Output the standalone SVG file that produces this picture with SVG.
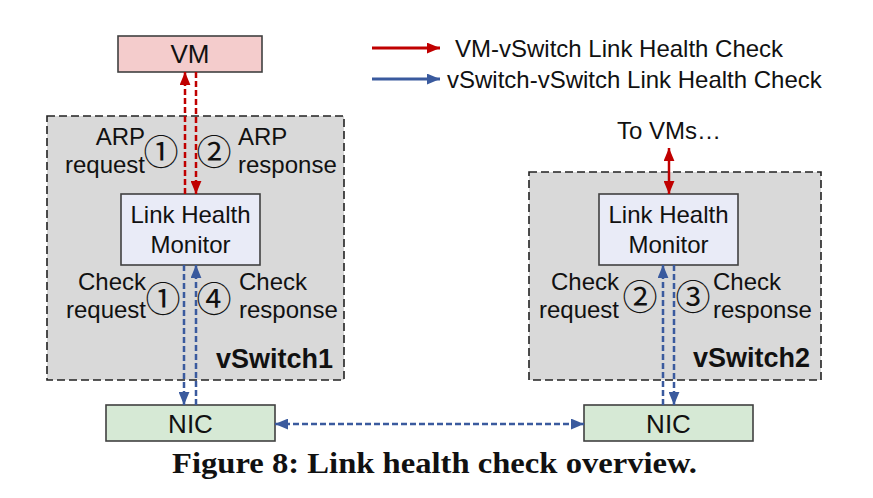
<svg xmlns="http://www.w3.org/2000/svg" width="873" height="498" viewBox="0 0 873 498">
<defs>
<style>
.lbl{font-family:"Liberation Sans",Arial,sans-serif;font-size:24px;fill:#111}
.big{font-family:"Liberation Sans",Arial,sans-serif;font-size:26px;fill:#111}
.leg{font-family:"Liberation Sans",Arial,sans-serif;font-size:24px;fill:#111}
.bold{font-family:"Liberation Sans",Arial,sans-serif;font-size:27px;font-weight:bold;fill:#111}
.num{font-family:"Noto Sans CJK SC","DejaVu Sans",sans-serif;font-size:35px;fill:#111}
.cap{font-family:"Liberation Serif","Times New Roman",serif;font-size:29px;font-weight:bold;fill:#111}
.sw{fill:#d9d9d9;stroke:#222;stroke-width:1.6;stroke-dasharray:8,4}
.box{stroke:#404040;stroke-width:1.6}
.red{stroke:#c00000;stroke-width:2.5;fill:none}
.blue{stroke:#3a5a9e;stroke-width:2.5;fill:none}
.dash{stroke-dasharray:6,3}
</style>
<marker id="ar" markerUnits="userSpaceOnUse" viewBox="0 0 12 10" refX="12" refY="5" markerWidth="13" markerHeight="11" orient="auto-start-reverse"><path d="M0,0 L12,5 L0,10 z" fill="#c00000"/></marker>
<marker id="ab" markerUnits="userSpaceOnUse" viewBox="0 0 12 10" refX="12" refY="5" markerWidth="13" markerHeight="11" orient="auto-start-reverse"><path d="M0,0 L12,5 L0,10 z" fill="#3a5a9e"/></marker>
</defs>
<rect width="873" height="498" fill="#fff"/>

<g id="vswitch1">
<rect class="sw" x="47" y="116" width="297" height="264"/>
<text class="bold" x="333" y="368" text-anchor="end">vSwitch1</text>
</g>
<g id="vswitch2">
<rect class="sw" x="529" y="172" width="292" height="208"/>
<text class="bold" x="810" y="367" text-anchor="end">vSwitch2</text>
</g>

<g id="vm">
<rect class="box" x="118" y="36" width="144" height="36" fill="#f4cccc"/>
<text class="big" x="190" y="63" text-anchor="middle">VM</text>
</g>

<g id="lhm1">
<rect class="box" x="121" y="194" width="139" height="71" fill="#e9ebf7"/>
<text class="lbl" x="190.5" y="223" text-anchor="middle">Link Health</text>
<text class="lbl" x="190.5" y="253" text-anchor="middle">Monitor</text>
</g>
<g id="lhm2">
<rect class="box" x="599" y="194" width="139" height="71" fill="#e9ebf7"/>
<text class="lbl" x="668.5" y="223" text-anchor="middle">Link Health</text>
<text class="lbl" x="668.5" y="253" text-anchor="middle">Monitor</text>
</g>

<g id="nic1">
<rect class="box" x="106" y="405" width="169" height="36" fill="#d6e9d5"/>
<text class="big" x="190.5" y="433" text-anchor="middle">NIC</text>
</g>
<g id="nic2">
<rect class="box" x="584" y="405" width="169" height="36" fill="#d6e9d5"/>
<text class="big" x="668.5" y="433" text-anchor="middle">NIC</text>
</g>

<g id="connectors">
<line class="red dash" x1="185" y1="194" x2="185" y2="72" marker-end="url(#ar)"/>
<line class="red dash" x1="196" y1="72" x2="196" y2="194" marker-end="url(#ar)"/>
<line class="blue dash" x1="184" y1="265" x2="184" y2="405" marker-end="url(#ab)"/>
<line class="blue dash" x1="196" y1="405" x2="196" y2="265" marker-end="url(#ab)"/>
<line class="blue dash" x1="663" y1="405" x2="663" y2="265" marker-end="url(#ab)"/>
<line class="blue dash" x1="674" y1="265" x2="674" y2="405" marker-end="url(#ab)"/>
<line class="red" x1="669" y1="148" x2="669" y2="194" marker-start="url(#ar)" marker-end="url(#ar)"/>
<line class="blue dash" x1="275" y1="424" x2="584" y2="424" marker-start="url(#ab)" marker-end="url(#ab)"/>
</g>

<g id="labels">
<text class="lbl" x="145" y="145" text-anchor="end">ARP</text>
<text class="lbl" x="145" y="173" text-anchor="end">request</text>
<text class="num" x="161" y="165" text-anchor="middle">①</text>
<text class="num" x="214" y="165" text-anchor="middle">②</text>
<text class="lbl" x="238" y="145">ARP</text>
<text class="lbl" x="238" y="173">response</text>

<text class="lbl" x="146" y="290" text-anchor="end">Check</text>
<text class="lbl" x="146" y="318" text-anchor="end">request</text>
<text class="num" x="163" y="312" text-anchor="middle">①</text>
<text class="num" x="214" y="312" text-anchor="middle">④</text>
<text class="lbl" x="239" y="290">Check</text>
<text class="lbl" x="239" y="318">response</text>

<text class="lbl" x="619" y="290" text-anchor="end">Check</text>
<text class="lbl" x="619" y="318" text-anchor="end">request</text>
<text class="num" x="640" y="310" text-anchor="middle">②</text>
<text class="num" x="693" y="310" text-anchor="middle">③</text>
<text class="lbl" x="713" y="290">Check</text>
<text class="lbl" x="713" y="318">response</text>

<text class="lbl" x="669" y="139" text-anchor="middle">To VMs…</text>
</g>

<g id="legend">
<line stroke="#c00000" stroke-width="3" x1="372" y1="48" x2="440" y2="48" marker-end="url(#ar)"/>
<text class="leg" x="455" y="57">VM-vSwitch Link Health Check</text>
<line stroke="#3a5a9e" stroke-width="3" x1="372" y1="79" x2="440" y2="79" marker-end="url(#ab)"/>
<text class="leg" x="447" y="88">vSwitch-vSwitch Link Health Check</text>
</g>

<text class="cap" x="172" y="473" textLength="525" lengthAdjust="spacingAndGlyphs">Figure 8: Link health check overview.</text>
</svg>
